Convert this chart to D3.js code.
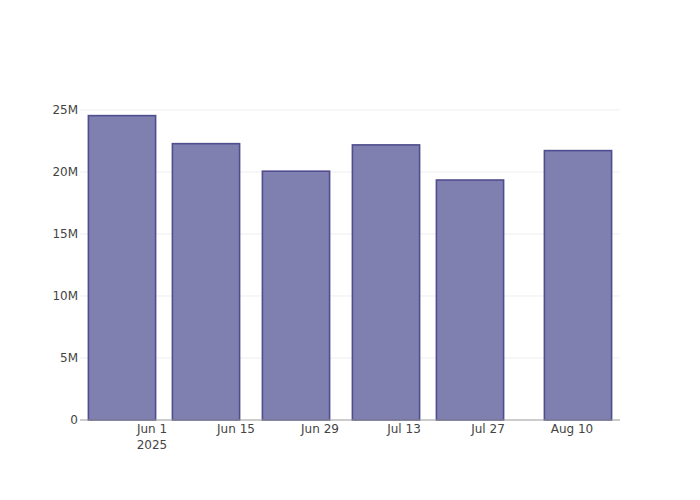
<!DOCTYPE html>
<html>
<head>
<meta charset="utf-8">
<script src="https://cdn.jsdelivr.net/npm/d3@7"></script>
<style>
  html, body { margin: 0; padding: 0; background: #fff; }
  svg { display: block; }
</style>
</head>
<body>
<svg id="chart" width="700" height="500"></svg>
<script>
// ---- data ----
const dates = ["2025-05-27", "2025-06-10", "2025-06-25", "2025-07-10", "2025-07-24", "2025-08-11"];
const values = [24540000, 22280000, 20060000, 22180000, 19350000, 21720000];
const yTicks = [0, 5000000, 10000000, 15000000, 20000000, 25000000];
const yTickLabels = ["0", "5M", "10M", "15M", "20M", "25M"];
const xTicks = ["2025-06-01", "2025-06-15", "2025-06-29", "2025-07-13", "2025-07-27", "2025-08-10"];
const xTickLabels = ["Jun 1", "Jun 15", "Jun 29", "Jul 13", "Jul 27", "Aug 10"];
const xDomain = ["2025-05-20", "2025-08-18"];
const yMax = 25800000;

const parse = d3.utcParse("%Y-%m-%d");
const DAY = 24 * 3600 * 1000;
const barDays = 11.2;

const svg = d3.select("#chart");
const W = 700, H = 500;
const m = { l: 80, r: 80, t: 100, b: 80 };

const x = d3.scaleUtc().domain(xDomain.map(parse)).range([m.l, W - m.r]);
const y = d3.scaleLinear().domain([0, yMax]).range([H - m.b, m.t]);

const font = "'DejaVu Sans', sans-serif";

// gridlines
svg.append("g").selectAll("line").data(yTicks.slice(1)).join("line")
  .attr("x1", m.l).attr("x2", W - m.r)
  .attr("y1", d => y(d)).attr("y2", d => y(d))
  .attr("stroke", "#eeeeee").attr("stroke-width", 1);

// bars
const data = dates.map((d, i) => ({ date: parse(d), value: values[i] }));
svg.append("g").selectAll("rect").data(data).join("rect")
  .attr("x", d => x(new Date(+d.date - barDays / 2 * DAY)))
  .attr("width", d => x(new Date(+d.date + barDays / 2 * DAY)) - x(new Date(+d.date - barDays / 2 * DAY)))
  .attr("y", d => y(d.value))
  .attr("height", d => y(0) - y(d.value))
  .attr("fill", "rgb(127,127,176)")
  .attr("stroke", "rgb(80,78,142)")
  .attr("stroke-width", 1.6);

// x axis line
svg.append("line")
  .attr("x1", m.l).attr("x2", W - m.r)
  .attr("y1", y(0)).attr("y2", y(0))
  .attr("stroke", "#999").attr("stroke-width", 1.2);

// y labels
svg.append("g").selectAll("text").data(yTicks).join("text")
  .attr("x", m.l - 2)
  .attr("y", d => y(d))
  .attr("dy", "0.35em")
  .attr("text-anchor", "end")
  .attr("font-family", font).attr("font-size", 12).attr("fill", "#444")
  .text((d, i) => yTickLabels[i]);

// x labels
svg.append("g").selectAll("text").data(xTicks).join("text")
  .attr("x", d => x(parse(d)))
  .attr("y", 433)
  .attr("text-anchor", "middle")
  .attr("font-family", font).attr("font-size", 12).attr("fill", "#444")
  .text((d, i) => xTickLabels[i]);

svg.append("text")
  .attr("x", x(parse(xTicks[0])))
  .attr("y", 448.5)
  .attr("text-anchor", "middle")
  .attr("font-family", font).attr("font-size", 12).attr("fill", "#444")
  .text("2025");
</script>
</body>
</html>
